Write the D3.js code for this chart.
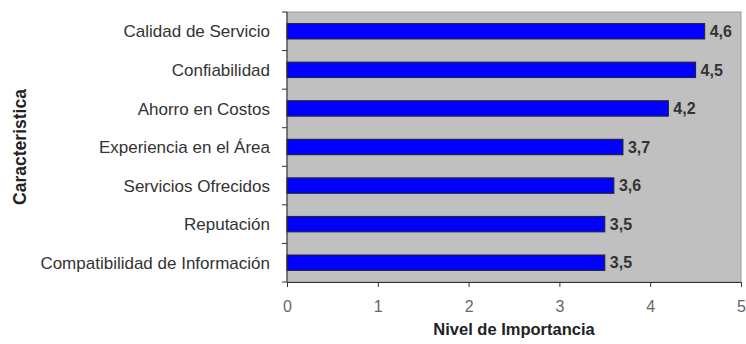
<!DOCTYPE html>
<html>
<head>
<meta charset="utf-8">
<script src="https://cdn.jsdelivr.net/npm/d3@7"></script>
<style>
  body { margin: 0; background: #fff; }
  svg { display: block; font-family: "Liberation Sans", Arial, sans-serif; }
</style>
</head>
<body>
<div id="chart"></div>
<script>
// data
const categories = [
    "Calidad de Servicio",
    "Confiabilidad",
    "Ahorro en Costos",
    "Experiencia en el Área",
    "Servicios Ofrecidos",
    "Reputación ",
    "Compatibilidad de Información"
];
const values = [4.6, 4.5, 4.2, 3.7, 3.6, 3.5, 3.5];
const xTicks = [0, 1, 2, 3, 4, 5];

const width = 746;
const height = 344;
const margin = { top: 12, right: 5, bottom: 62, left: 287 };
const plotW = width - margin.left - margin.right;
const plotH = height - margin.top - margin.bottom;

const svg = d3.select("#chart")
    .append("svg")
    .attr("width", width)
    .attr("height", height);

const g = svg.append("g")
    .attr("transform", `translate(${margin.left},${margin.top})`);

const x = d3.scaleLinear().domain([0, 5]).range([0, plotW]);
const y = d3.scaleBand().domain(categories).range([0, plotH]).paddingInner(0.6).paddingOuter(0.3);

//plot background
g.append("rect")
    .attr("width", plotW)
    .attr("height", plotH)
    .attr("fill", "#c0c0c0")
    .attr("stroke", "#999")
    .attr("stroke-width", 1);

//bars
g.selectAll(".bar")
    .data(values)
    .enter()
    .append("rect")
    .attr("class", "bar")
    .attr("x", 0)
    .attr("y", (d, i) => y(categories[i]))
    .attr("width", d => x(d))
    .attr("height", y.bandwidth())
    .attr("fill", "#0000ff")
    .attr("stroke", "#222")
    .attr("stroke-width", 1);

//value labels
g.selectAll(".val")
    .data(values)
    .enter()
    .append("text")
    .attr("x", d => x(d) + 5)
    .attr("y", (d, i) => y(categories[i]) + y.bandwidth() / 2)
    .attr("dy", "0.36em")
    .attr("font-size", 16)
    .attr("font-weight", "bold")
    .attr("fill", "#333")
    .text(d => d.toFixed(1).replace(".", ","));

//x axis
const xAxis = g.append("g")
    .attr("transform", `translate(0,${plotH})`)
    .call(d3.axisBottom(x).tickValues(xTicks).tickSize(5).tickPadding(14).tickFormat(d => d));
xAxis.select(".domain").attr("stroke", "#333");
xAxis.selectAll(".tick line").attr("stroke", "#333");
xAxis.selectAll("text")
    .attr("font-size", 16)
    .attr("fill", "#666")
    .style("font-family", "Liberation Sans, Arial, sans-serif");

//y axis with ticks at band boundaries
const step = plotH / categories.length;
const yEdges = d3.range(categories.length + 1).map(i => i * step);
g.append("line")
    .attr("x1", 0).attr("x2", 0)
    .attr("y1", 0).attr("y2", plotH)
    .attr("stroke", "#333");
g.selectAll(".ytick")
    .data(yEdges)
    .enter()
    .append("line")
    .attr("x1", -5).attr("x2", 0)
    .attr("y1", d => d).attr("y2", d => d)
    .attr("stroke", "#333");

g.selectAll(".cat")
    .data(categories)
    .enter()
    .append("text")
    .attr("x", -17)
    .attr("y", (d, i) => (i + 0.5) * step)
    .attr("dy", "0.36em")
    .attr("text-anchor", "end")
    .attr("font-size", 17)
    .attr("fill", "#333")
    .text(d => d);

//axis titles
svg.append("text")
    .attr("x", 514)
    .attr("y", 335)
    .attr("text-anchor", "middle")
    .attr("font-size", 16.5)
    .attr("font-weight", "bold")
    .attr("fill", "#222")
    .text("Nivel de Importancia");

svg.append("text")
    .attr("transform", `translate(26,147) rotate(-90)`)
    .attr("text-anchor", "middle")
    .attr("font-size", 17.5)
    .attr("font-weight", "bold")
    .attr("fill", "#222")
    .text("Caracteristica");
</script>
</body>
</html>
